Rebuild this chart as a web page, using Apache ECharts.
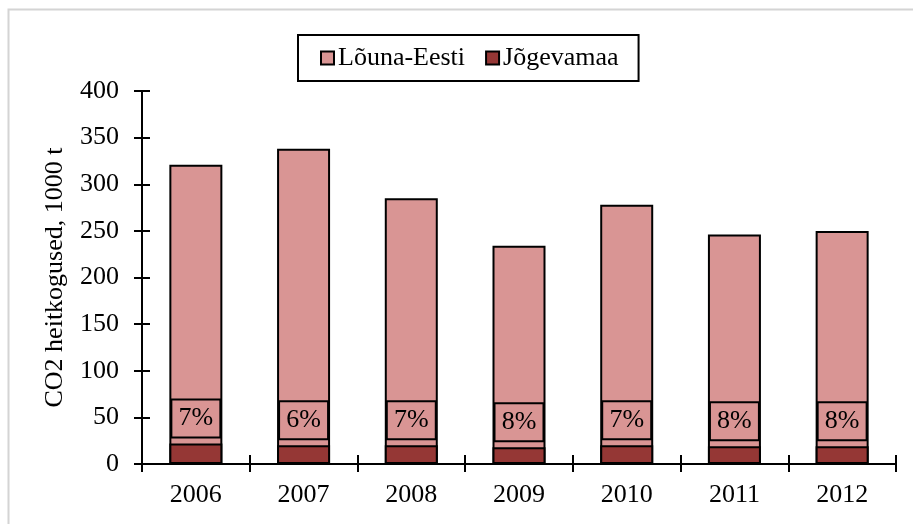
<!DOCTYPE html>
<html>
<head>
<meta charset="utf-8">
<script src="https://cdn.jsdelivr.net/npm/echarts@6/dist/echarts.min.js"></script>
<style>
html,body{margin:0;padding:0;background:#fff;}
#c{width:913px;height:524px;}
</style>
</head>
<body>
<div id="c"></div>
<script>
const categories = ['2006','2007','2008','2009','2010','2011','2012'];
const lounaEesti = [321, 338, 285, 234, 278, 246, 250];
const jogevamaa = [22, 20, 20, 18, 20, 19, 19];
const yTicks = [0, 50, 100, 150, 200, 250, 300, 350, 400];

const FONT = '"Liberation Serif", "Times New Roman", serif';
const chart = echarts.init(document.getElementById('c'));
const txt = {fontFamily: FONT, fontSize: 26, color: '#000'};

chart.setOption({
  animation: false,
  backgroundColor: '#fff',
  graphic: [{
    type: 'rect', shape: {x: 8.5, y: 9.5, width: 940, height: 540},
    style: {fill: 'none', stroke: '#d4d4d4', lineWidth: 2}, silent: true
  }],
  legend: {
    top: 35, left: 298,
    data: ['Lõuna-Eesti', 'Jõgevamaa'],
    itemWidth: 13, itemHeight: 13, itemGap: 20,
    icon: 'rect',
    borderColor: '#000', borderWidth: 2, padding: [10, 20, 10, 22],
    textStyle: Object.assign({}, txt, {padding: [0, 0, 0, -1]}),
    selectedMode: false
  },
  grid: {left: 142, right: 17, top: 91, bottom: 60, containLabel: false},
  xAxis: [{
    type: 'category', data: categories, position: 'bottom',
    axisLine: {lineStyle: {color: '#000', width: 2}},
    axisTick: {show: true, length: 8, lineStyle: {color: '#000', width: 2}},
    axisLabel: Object.assign({}, txt, {margin: 18})
  }, {
    type: 'category', data: categories, position: 'bottom', offset: 0,
    axisLine: {show: false},
    axisTick: {show: true, inside: true, length: 9, lineStyle: {color: '#000', width: 2}},
    axisLabel: {show: false}
  }],
  yAxis: [{
    type: 'value', min: yTicks[0], max: yTicks[yTicks.length - 1], interval: 50, position: 'left',
    name: 'CO2 heitkogused, 1000 t', nameLocation: 'middle', nameGap: 74,
    nameTextStyle: txt,
    splitLine: {show: false},
    axisLine: {show: true, lineStyle: {color: '#000', width: 2}},
    axisTick: {show: true, length: 8, lineStyle: {color: '#000', width: 2}},
    axisLabel: Object.assign({}, txt, {margin: 23})
  }, {
    type: 'value', min: yTicks[0], max: yTicks[yTicks.length - 1], interval: 50, position: 'left', offset: 0,
    splitLine: {show: false},
    axisLine: {show: false},
    axisTick: {show: true, inside: true, length: 8, lineStyle: {color: '#000', width: 2}},
    axisLabel: {show: false}
  }],
  series: [{
    name: 'Lõuna-Eesti', type: 'bar', data: lounaEesti,
    barWidth: 53,
    itemStyle: {color: '#D99594', borderColor: '#000', borderWidth: 2}
  }, {
    name: 'Jõgevamaa', type: 'bar', data: jogevamaa,
    barWidth: 53, barGap: '-100%',
    itemStyle: {color: '#953735', borderColor: '#000', borderWidth: 2},
    label: {
      show: true, position: 'top', distance: 6,
      formatter: p => Math.round(p.value / lounaEesti[p.dataIndex] * 100) + '%',
      fontFamily: FONT, fontSize: 26, color: '#000',
      borderColor: '#000', borderWidth: 2,
      width: 49, height: 32, lineHeight: 32, align: 'center',
      padding: [3, 0, 3, 0]
    }
  }]
});
</script>
</body>
</html>
